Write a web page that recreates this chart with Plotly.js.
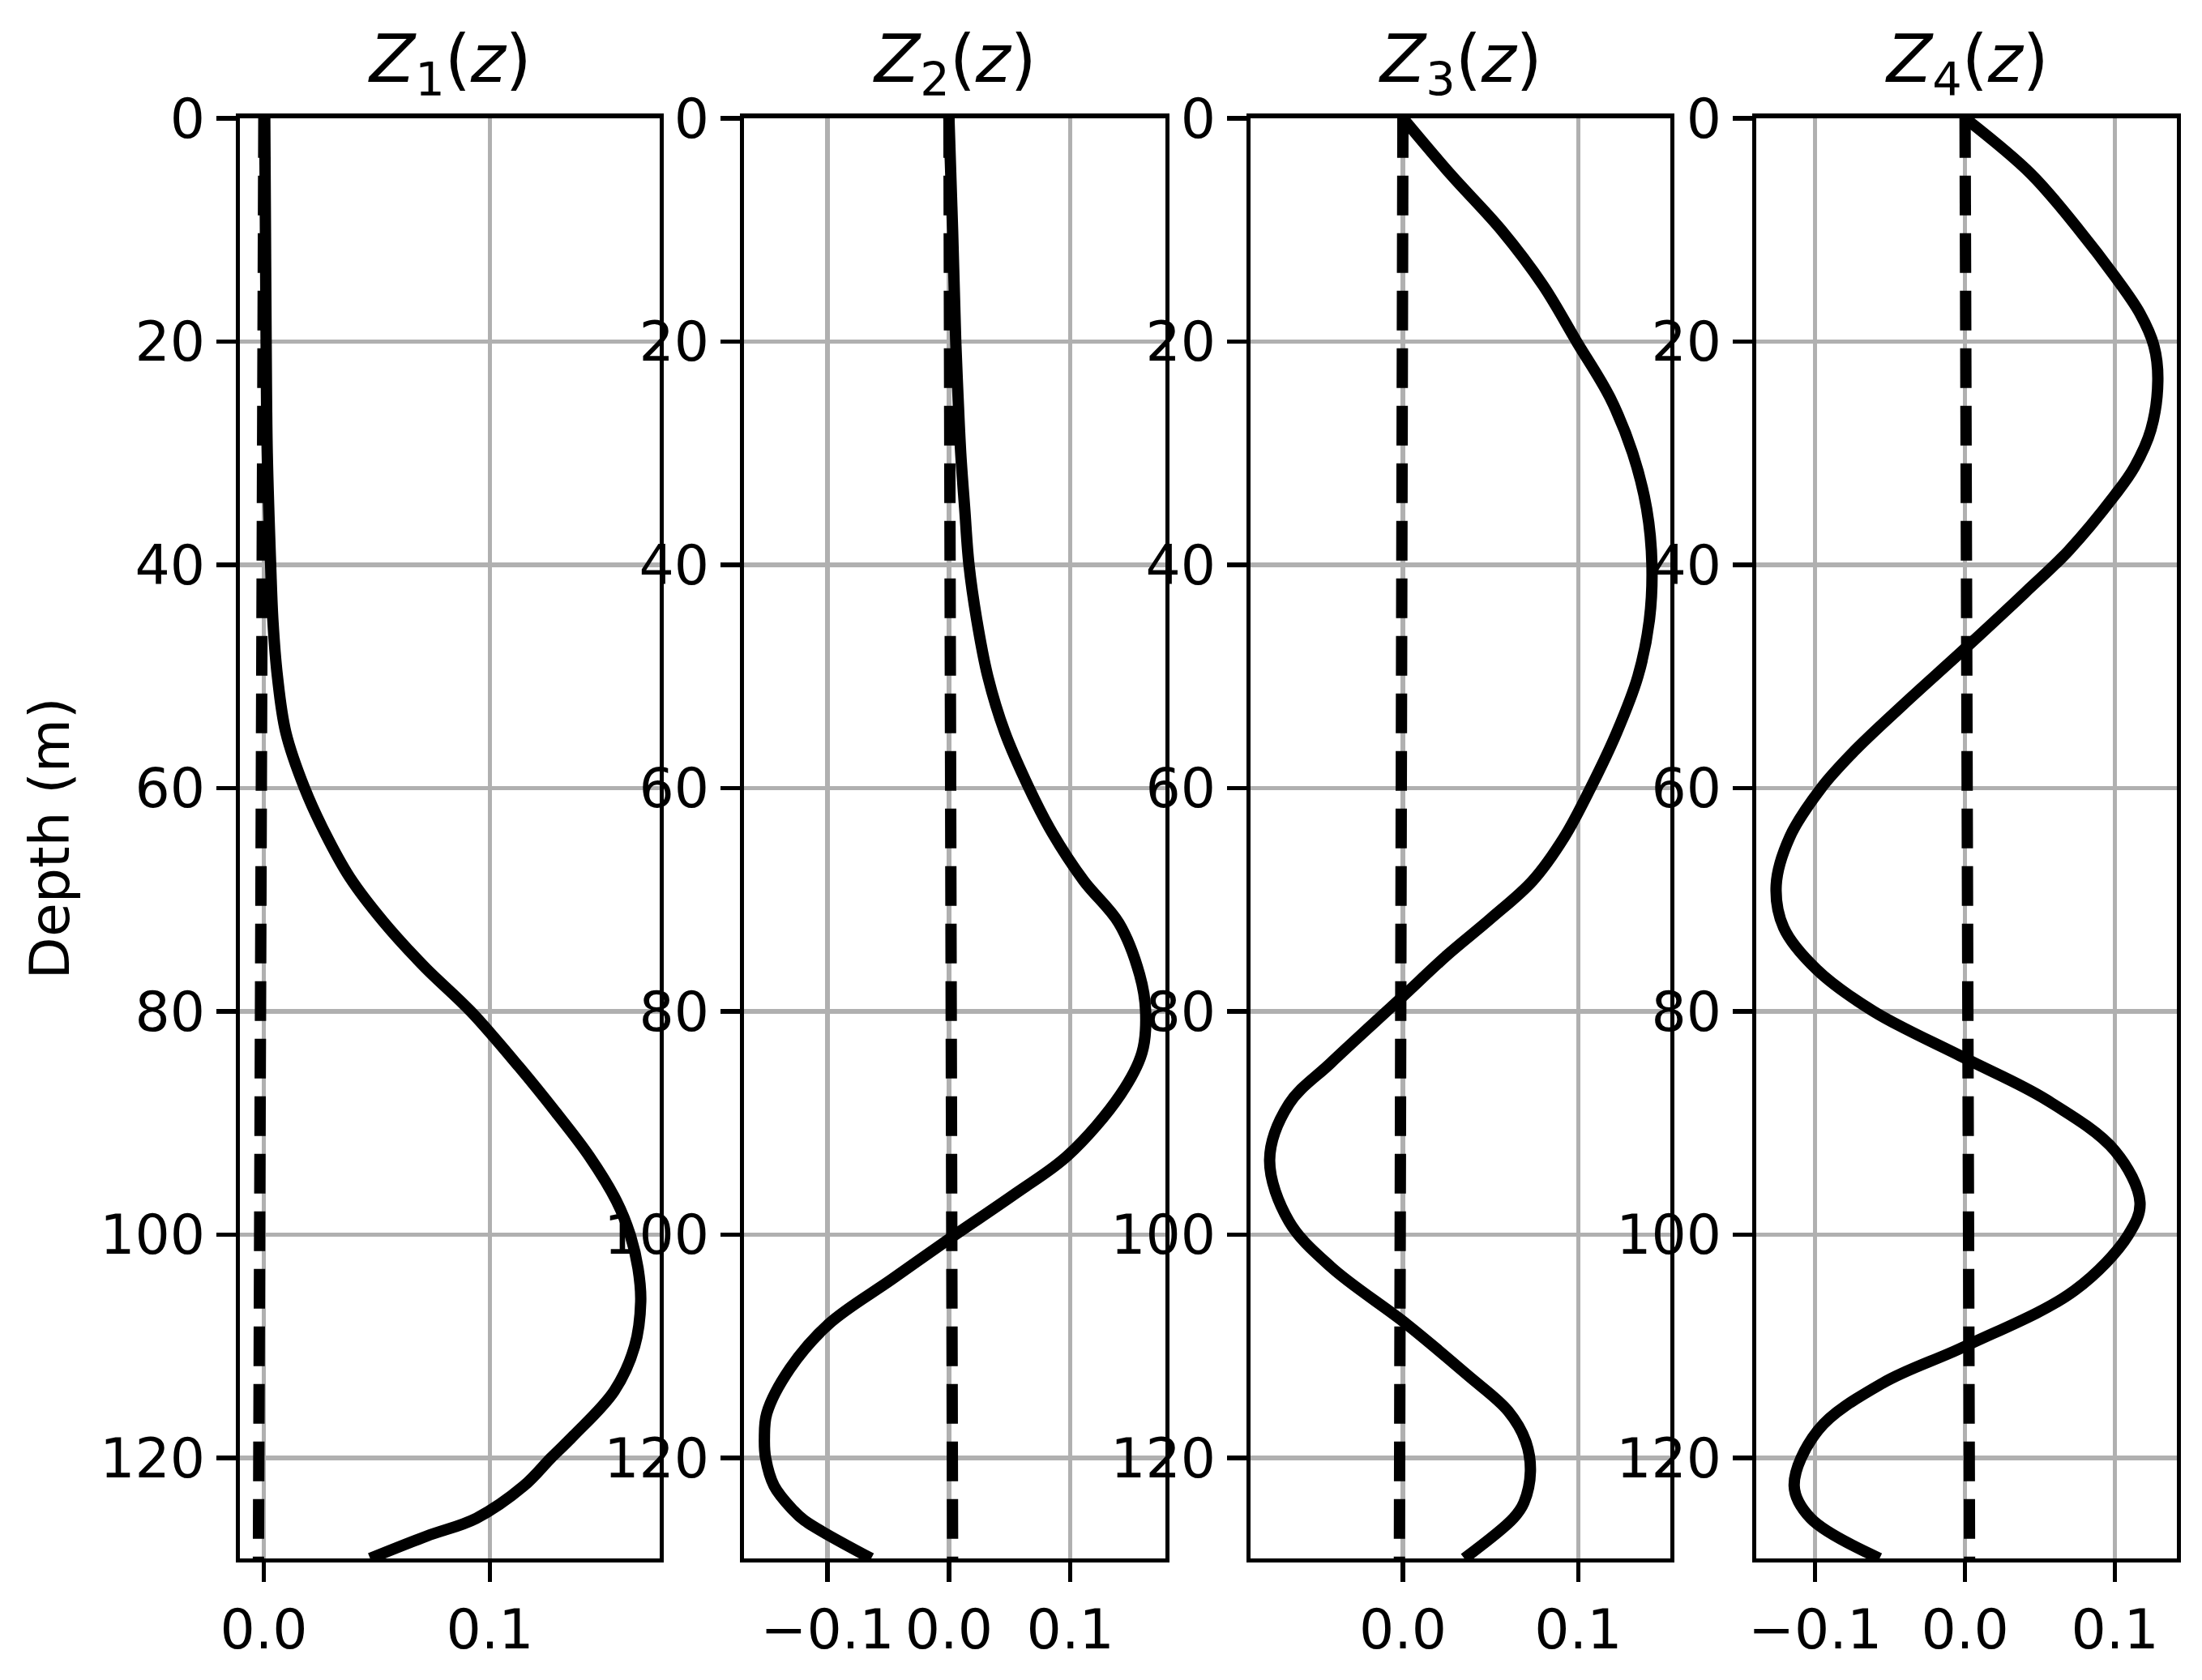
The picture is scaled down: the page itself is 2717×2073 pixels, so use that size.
<!DOCTYPE html>
<html>
<head>
<meta charset="utf-8">
<script src="https://cdn.plot.ly/plotly-3.0.1.min.js"></script>
<style>html,body{margin:0;padding:0;background:#fff;}#chart{width:2717px;height:2073px;}</style>
</head>
<body>
<div id="chart"></div>
<script>
// ---- data (depth in m, modal amplitude) ----
const panelTitles = ["<i>Z</i><sub>1</sub>(<i>z</i>)", "<i>Z</i><sub>2</sub>(<i>z</i>)", "<i>Z</i><sub>3</sub>(<i>z</i>)", "<i>Z</i><sub>4</sub>(<i>z</i>)"];
const yTitle = "Depth (m)";

const depth1 = [0, 10, 20, 30, 40, 45, 50, 55, 60, 64, 68, 72, 76, 80, 85, 89, 93, 97, 100, 103, 106, 110, 114, 118, 120, 122.5, 125.4, 127, 129];
const mode1  = [0.0004, 0.0007, 0.001, 0.0015, 0.003, 0.004, 0.006, 0.0097, 0.018, 0.027, 0.038, 0.053, 0.071, 0.0915, 0.113, 0.129, 0.144, 0.156, 0.162, 0.1655, 0.1667, 0.164, 0.155, 0.137, 0.127, 0.115, 0.094, 0.072, 0.047];

const depth2 = [0, 10, 20, 25, 30, 35, 40, 45, 50, 55, 60, 64, 68.3, 72.1, 76.7, 80, 83.7, 87.5, 92.9, 96.3, 100.4, 104, 108, 112, 116, 118.3, 120, 122.5, 124.6, 125.6, 129];
const mode2  = [0.0, 0.003, 0.0056, 0.0075, 0.0097, 0.013, 0.0165, 0.023, 0.032, 0.046, 0.066, 0.085, 0.111, 0.140, 0.157, 0.162, 0.159, 0.141, 0.098, 0.055, 0.0, -0.047, -0.099, -0.131, -0.150, -0.152, -0.151, -0.144, -0.129, -0.119, -0.064];

const depth3 = [0, 5, 10, 15, 20, 25, 30, 35, 40, 45, 50, 55, 60, 64.4, 68.3, 71.7, 75, 78.8, 84.6, 88.3, 93.3, 98.8, 102.9, 108, 112.6, 115.8, 118.5, 121.2, 124, 125.4, 129];
const mode3  = [0.0, 0.027, 0.056, 0.080, 0.099, 0.118, 0.131, 0.139, 0.142, 0.1405, 0.134, 0.122, 0.107, 0.092, 0.074, 0.050, 0.025, -0.001, -0.041, -0.065, -0.076, -0.065, -0.041, 0.002, 0.037, 0.060, 0.070, 0.0727, 0.069, 0.063, 0.035];

const depth4 = [0, 5, 10, 14.2, 17.5, 20.4, 23.5, 27.9, 31.25, 33.75, 38.75, 42.5, 47.5, 52.5, 56.7, 60, 64.4, 68.7, 72.5, 76.25, 80, 84.2, 87.9, 92.5, 97.1, 100, 105, 110, 113.3, 117.5, 122.5, 125.4, 129];
const mode4  = [0.0, 0.044, 0.076, 0.100, 0.1167, 0.126, 0.1286, 0.124, 0.113, 0.100, 0.069, 0.040, 0.0, -0.041, -0.074, -0.096, -0.117, -0.126, -0.121, -0.099, -0.061, 0.0, 0.054, 0.100, 0.1167, 0.109, 0.073, 0.0, -0.055, -0.098, -0.114, -0.103, -0.057];

// dashed reference lines (nearly zero)
const refDepth = [0, 129];
const ref1 = [0, -0.0024];
const ref2 = [0, 0.003];
const ref3 = [0, -0.002];
const ref4 = [0, 0.003];

const xTicks = [-0.1, 0.0, 0.1];
const yTicks = [0, 20, 40, 60, 80, 100, 120];

// ---- layout geometry (px in a 2717 x 2073 figure) ----
const W = 2717, H = 2073;
const panelsPx = [[296, 814], [918, 1438], [1543, 2061], [2167, 2686]];
const topPx = 145.8, botPx = 1923;
const xRanges = [[-0.0106, 0.1751], [-0.1688, 0.1783], [-0.0869, 0.1525], [-0.1393, 0.1413]];
const yRange = [129.0, 0];

const depths = [depth1, depth2, depth3, depth4];
const modes = [mode1, mode2, mode3, mode4];
const refs = [ref1, ref2, ref3, ref4];

const FONT = "DejaVu Sans, Liberation Sans, sans-serif";
const tickFont = {family: FONT, size: 68, color: "#000"};

const traces = [];
const layout = {
  width: W, height: H,
  margin: {l: 0, r: 0, t: 0, b: 0},
  paper_bgcolor: "#fff", plot_bgcolor: "#fff",
  showlegend: false,
  annotations: []
};

for (let i = 0; i < 4; i++) {
  const xa = i === 0 ? "x" : "x" + (i + 1);
  const ya = i === 0 ? "y" : "y" + (i + 1);
  traces.push({
    x: modes[i], y: depths[i], xaxis: xa, yaxis: ya,
    type: "scatter", mode: "lines",
    line: {color: "#000", width: 14, shape: "spline", smoothing: 1},
    hoverinfo: "skip"
  });
  traces.push({
    x: refs[i], y: refDepth, xaxis: xa, yaxis: ya,
    type: "scatter", mode: "lines",
    line: {color: "#000", width: 14, dash: "49px,22px"},
    hoverinfo: "skip"
  });
  const axCommon = {
    showline: true, linecolor: "#000", linewidth: 5.4, mirror: true,
    ticks: "outside", ticklen: 24, tickwidth: 5.4, tickcolor: "#000",
    showgrid: true, gridcolor: "#b0b0b0", gridwidth: 5.4,
    zeroline: false, tickfont: tickFont, fixedrange: true
  };
  const xName = i === 0 ? "xaxis" : "xaxis" + (i + 1);
  const yName = i === 0 ? "yaxis" : "yaxis" + (i + 1);
  layout[xName] = Object.assign({}, axCommon, {
    domain: [panelsPx[i][0] / W, panelsPx[i][1] / W],
    range: xRanges[i], tickvals: xTicks, tickformat: ".1f",
    anchor: ya
  });
  layout[yName] = Object.assign({}, axCommon, {
    domain: [1 - botPx / H, 1 - topPx / H],
    range: yRange, tickvals: yTicks,
    anchor: xa
  });
  layout.annotations.push({
    text: panelTitles[i], xref: "paper", yref: "paper",
    x: (panelsPx[i][0] + panelsPx[i][1]) / 2 / W, y: 1 - 78 / H,
    xanchor: "center", yanchor: "middle", showarrow: false,
    font: {family: FONT, size: 82, color: "#000"}
  });
}
layout.annotations.push({
  text: yTitle, xref: "paper", yref: "paper",
  x: 61 / W, y: 1 - ((topPx + botPx) / 2) / H,
  xanchor: "center", yanchor: "middle", textangle: -90, showarrow: false,
  font: {family: FONT, size: 68, color: "#000"}
});

Plotly.newPlot("chart", traces, layout, {staticPlot: true, displayModeBar: false});
</script>
</body>
</html>
